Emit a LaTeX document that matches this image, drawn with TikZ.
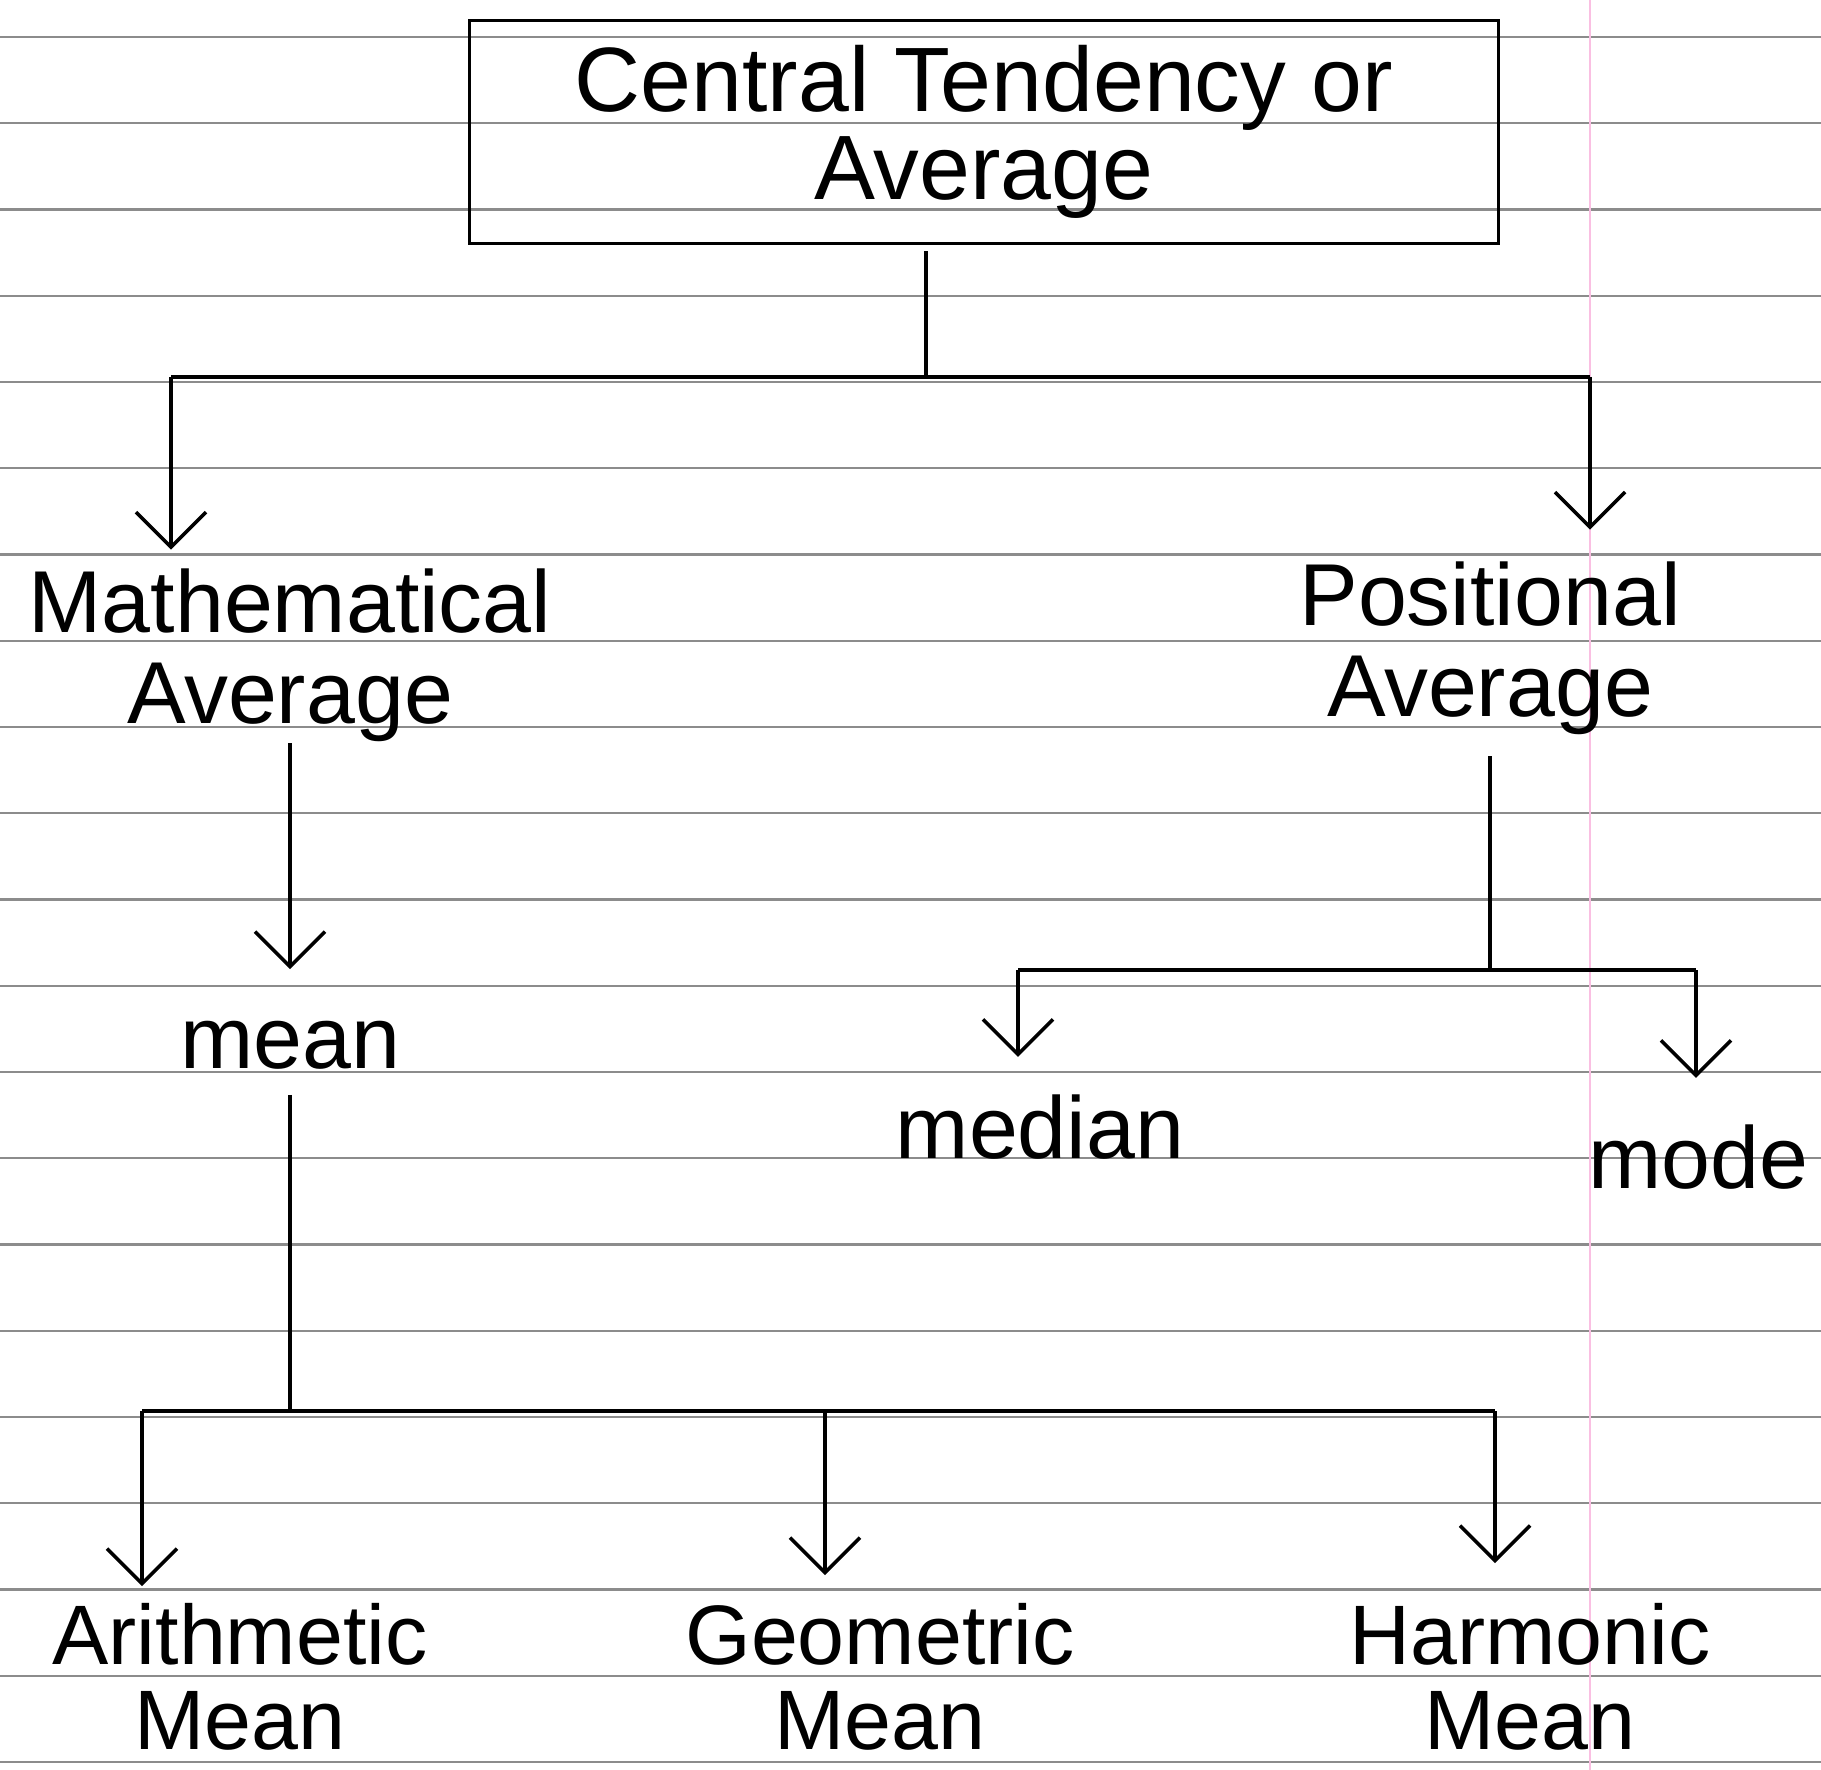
\documentclass[tikz,border=0pt]{standalone}
\usepackage{fontspec}
\setmainfont{Liberation Sans}
\usetikzlibrary{arrows.meta,positioning}

\begin{document}
\begin{tikzpicture}[x=0.01cm,y=-0.01cm,line width=1pt,
  >={Straight Barb[length=3.5mm,width=7mm]},
  every node/.style={inner sep=0pt,align=center,font=\fontsize{25}{26}\selectfont},
  lowlbl/.style={font=\fontsize{24}{24}\selectfont},
  rule/.style={black!45,line width=0.7pt},
  margin/.style={magenta!25,line width=0.8pt},
  topbox/.style={draw,minimum width=10.28cm,minimum height=2.23cm,font=\fontsize{26}{25}\selectfont}]
\useasboundingbox (0,0) rectangle (1821,1770);
% ruled page
\foreach \k in {0,...,20}
  \draw[rule] (0,37+86.25*\k) -- (1821,37+86.25*\k);
\draw[margin] (1590,0) -- (1590,1770);

\node[topbox] (title) at (984,132) {Central Tendency or\\Average};
\node (math) at (290,655) {Mathematical\\Average};
\node (posit) at (1490,648) {Positional\\Average};
\node (mean) at (290,1045) {mean};
\node (median) at (1040,1127) {median};
\node (mode) at (1698,1157) {mode};
\node[lowlbl] (am) at (240,1677) {Arithmetic\\Mean};
\node[lowlbl] (gm) at (880,1677) {Geometric\\Mean};
\node[lowlbl] (hm) at (1530,1677) {Harmonic\\Mean};

% first split
\coordinate (barA) at (926,377);
\coordinate (leftA) at (171,377);
\coordinate (rightA) at (1590,377);
\draw[shorten <=0.6mm] (title.south -| barA) -- (barA);
\draw (leftA) -- (rightA);
\draw[->,shorten >=1.7mm] (leftA) -- (leftA |- math.north);
\draw[->,shorten >=3mm] (rightA) -- (rightA |- posit.north);

% mathematical
\draw[->,shorten >=5mm] (math.south) -- (math.south |- mean.north);

% positional
\coordinate (barB) at (1490,970);
\coordinate (medT) at (1018,970);
\coordinate (modT) at (1696,970);
\draw[shorten <=2mm] (posit.south) -- (barB);
\draw (medT) -- (modT);
\draw[->,shorten >=3.6mm] (medT) -- (medT |- median.north);
\draw[->,shorten >=4.5mm] (modT) -- (modT |- mode.north);

% kinds of mean
\coordinate (barC) at (290,1411);
\coordinate (amT) at (142,1411);
\coordinate (gmT) at (825,1411);
\coordinate (hmT) at (1495,1411);
\draw[shorten <=2.4mm] (mean.south) -- (barC);
\draw (amT) -- (hmT);
\draw[->,shorten >=1.6mm] (amT) -- (amT |- am.north);
\draw[->,shorten >=2.7mm] (gmT) -- (gmT |- gm.north);
\draw[->,shorten >=3.9mm] (hmT) -- (hmT |- hm.north);
\end{tikzpicture}
\end{document}
